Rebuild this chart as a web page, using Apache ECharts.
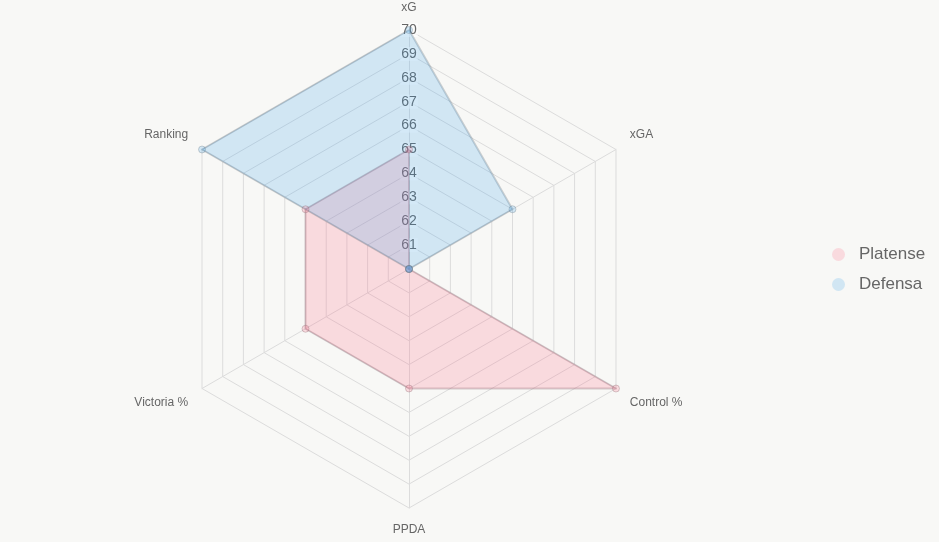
<!DOCTYPE html>
<html>
<head>
<meta charset="utf-8">
<script src="https://cdn.jsdelivr.net/npm/echarts@6/dist/echarts.min.js"></script>
<style>
  html, body { margin: 0; padding: 0; background: #f8f8f6; }
  #chart { width: 939px; height: 542px; }
</style>
</head>
<body>
<div id="chart"></div>
<script>
// clockwise from the top
const indicators = ["xG", "xGA", "Control %", "PPDA", "Victoria %", "Ranking"];
const platense = [65, 60, 70, 65, 65, 65];
const defensa = [70, 65, 60, 60, 60, 70];
const scaleMin = 60;
const scaleMax = 70;

const SERIES = [
  { name: "Platense", data: platense, fill: "rgba(255, 99, 132, 0.2)", line: "rgba(140, 110, 118, 0.35)" },
  { name: "Defensa", data: defensa, fill: "rgba(54, 162, 235, 0.2)", line: "rgba(115, 125, 135, 0.35)" },
];

// echarts radar runs counter-clockwise, so keep the first axis and reverse the rest
const order = [0, ...indicators.map((_, i) => i).slice(1).reverse()];
const reorder = (arr) => order.map((i) => arr[i]);

const UPPER = ["xGA", "Ranking"];
const LOWER = ["Control %", "Victoria %"];

const chart = echarts.init(document.getElementById("chart"));

const options = {
  backgroundColor: "#f8f8f6",
  animation: false,
  legend: {
    orient: "vertical",
    left: 827,
    top: 241,
    icon: "circle",
    itemWidth: 13,
    itemHeight: 13,
    itemGap: 13,
    textStyle: {
      color: "#666",
      fontSize: 17,
      fontFamily: "Arial, Liberation Sans, sans-serif",
      padding: [0, 0, 0, 9],
    },
    data: SERIES.map((s) => ({ name: s.name, itemStyle: { color: s.fill, borderWidth: 0 } })),
  },
  radar: {
    center: [409, 269],
    radius: 239,
    startAngle: 90,
    splitNumber: 10,
    shape: "polygon",
    nameGap: 16,
    axisName: {
      color: "#666",
      fontSize: 12,
      fontFamily: "Arial, Liberation Sans, sans-serif",
      formatter: (name) => {
        if (UPPER.includes(name)) return `{up|${name}}`;
        if (LOWER.includes(name)) return `{down|${name}}`;
        return name;
      },
      rich: {
        up: { color: "#666", fontSize: 12, padding: [0, 0, 14, 0] },
        down: { color: "#666", fontSize: 12, padding: [13, 0, 0, 0] },
      },
    },
    indicator: reorder(indicators).map((name, i) => ({
      name,
      min: scaleMin,
      max: scaleMax,
      axisLabel: i === 0 ? {
        show: true,
        color: "#666",
        fontSize: 14,
        fontFamily: "Arial, Liberation Sans, sans-serif",
        margin: 0,
        align: "center",
        verticalAlign: "middle",
        backgroundColor: "rgba(255,255,255,0.6)",
        padding: [0, 1],
        formatter: (v) => (v === scaleMin ? "" : String(v)),
      } : { show: false },
    })),
    axisLabel: { show: false },
    axisTick: { show: false },
    axisLine: { lineStyle: { color: "#dcdcdc", width: 1 } },
    splitLine: { lineStyle: { color: "#dcdcdc", width: 1 } },
    splitArea: { show: false },
  },
  series: [
    {
      type: "radar",
      data: SERIES.map((s) => ({
        name: s.name,
        value: reorder(s.data),
        symbol: "circle",
        symbolSize: 7,
        itemStyle: { color: s.fill, borderColor: s.line, borderWidth: 1 },
        lineStyle: { color: s.line, width: 2 },
        areaStyle: { color: s.fill, opacity: 1 },
      })),
    },
  ],
};

chart.setOption(options);
</script>
</body>
</html>
